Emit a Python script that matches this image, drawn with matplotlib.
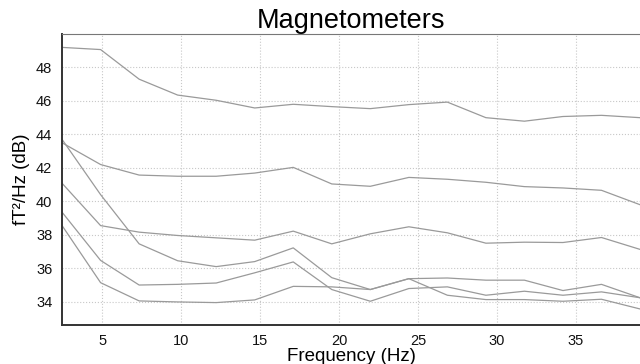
import matplotlib.pyplot as plt
import numpy as np

plt.rcParams["font.family"] = ["Liberation Sans", "DejaVu Sans"]

# frequency bins (Hz) and per-channel power spectral density (dB)
freqs = np.arange(1, 17) * 2.4414
psd_ch1 = [49.2, 49.07, 47.3, 46.35, 46.04, 45.58, 45.8, 45.66, 45.54, 45.78, 45.93, 45.0, 44.79, 45.07, 45.14, 45.0]
psd_ch2 = [43.5, 42.2, 41.57, 41.5, 41.5, 41.69, 42.03, 41.04, 40.9, 41.43, 41.32, 41.14, 40.88, 40.8, 40.66, 39.8]
psd_ch3 = [41.08, 38.55, 38.16, 37.96, 37.82, 37.68, 38.22, 37.46, 38.06, 38.48, 38.12, 37.5, 37.56, 37.54, 37.84, 37.13]
psd_ch4 = [43.7, 40.4, 37.46, 36.45, 36.1, 36.4, 37.22, 35.44, 34.73, 35.38, 35.42, 35.29, 35.29, 34.67, 35.04, 34.24]
psd_ch5 = [39.35, 36.47, 35.0, 35.04, 35.12, 35.73, 36.38, 34.73, 34.03, 34.79, 34.89, 34.39, 34.63, 34.39, 34.59, 34.24]
psd_ch6 = [38.55, 35.14, 34.05, 33.99, 33.95, 34.11, 34.92, 34.89, 34.73, 35.38, 34.39, 34.13, 34.13, 34.03, 34.15, 33.57]
channels = [psd_ch1, psd_ch2, psd_ch3, psd_ch4, psd_ch5, psd_ch6]

fig = plt.figure(figsize=(6.4, 3.64), dpi=100)
ax = fig.add_axes([0.097, 0.108, 0.903, 0.7986])

for psd in channels:
    ax.plot(freqs, psd, color='#9a9a9a', lw=0.9)

ax.set_xlim(freqs[0], freqs[-1])
ax.set_ylim(32.63, 50.0)
ax.set_xticks([5, 10, 15, 20, 25, 30, 35])
ax.set_yticks([34, 36, 38, 40, 42, 44, 46, 48])
ax.grid(True, linestyle=':', color='#c8c8c8', lw=0.8)
ax.tick_params(length=0, labelsize=10.5, pad=7, colors='#111111')

ax.spines['right'].set_visible(False)
ax.spines['top'].set_color('#777777')
ax.spines['top'].set_linewidth(0.8)
for side in ['left', 'bottom']:
    ax.spines[side].set_color('#333333')
    ax.spines[side].set_linewidth(1.4)

ax.set_title('Magnetometers', fontsize=19.5, pad=2)
ax.set_xlabel('Frequency (Hz)', fontsize=13.5, labelpad=0)
ax.set_ylabel('fT²/Hz (dB)', fontsize=13.5, labelpad=4)

fig.savefig('out.png', dpi=100)
